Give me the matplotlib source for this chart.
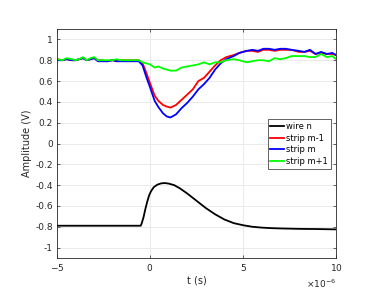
import numpy as np
import matplotlib
matplotlib.use("Agg")
import matplotlib.pyplot as plt
from matplotlib.ticker import ScalarFormatter

# values (time in microseconds)
t_wire = [-5, -0.5, -0.45, -0.35, -0.25, -0.15, -0.05, 0.05, 0.2, 0.4, 0.6, 0.8,
          1.0, 1.3, 1.6, 2.0, 2.5, 3.0, 3.5, 4.0, 4.5, 5.0, 5.5, 6, 6.5, 7, 8, 9, 10]
wire_n = [-0.79, -0.79, -0.77, -0.71, -0.63, -0.56, -0.50, -0.46, -0.42, -0.395,
          -0.383, -0.38, -0.385, -0.40, -0.43, -0.48, -0.55, -0.62, -0.68, -0.73,
          -0.765, -0.785, -0.80, -0.808, -0.813, -0.816, -0.82, -0.822, -0.825]

t_strip = [-5, -4.7, -4.5, -4.2, -4, -3.8, -3.6, -3.4, -3.2, -3.0, -2.8, -2.6, -2.3,
           -2.0, -1.8, -1.6, -1.3, -1.0, -0.6, -0.4, -0.2, 0, 0.25, 0.45, 0.7, 0.9,
           1.1, 1.4, 1.7, 2.0, 2.3, 2.6, 2.9, 3.2, 3.5, 3.8, 4.1, 4.5, 4.8, 5.2,
           5.5, 5.8, 6.1, 6.4, 6.7, 7.0, 7.3, 7.6, 8.0, 8.3, 8.6, 8.9, 9.2, 9.5,
           9.8, 10]
strip_m_minus = [0.81, 0.80, 0.81, 0.80, 0.80, 0.81, 0.82, 0.80, 0.81, 0.82, 0.80,
                 0.80, 0.79, 0.80, 0.79, 0.80, 0.80, 0.80, 0.80, 0.77, 0.68, 0.58,
                 0.46, 0.41, 0.37, 0.355, 0.345, 0.37, 0.42, 0.47, 0.52, 0.60, 0.63,
                 0.69, 0.75, 0.80, 0.83, 0.85, 0.87, 0.89, 0.89, 0.88, 0.90, 0.90,
                 0.89, 0.90, 0.90, 0.90, 0.88, 0.88, 0.89, 0.86, 0.87, 0.86, 0.86,
                 0.85]
strip_m = [0.80, 0.80, 0.81, 0.80, 0.80, 0.81, 0.82, 0.80, 0.81, 0.82, 0.79,
           0.79, 0.79, 0.80, 0.79, 0.79, 0.79, 0.79, 0.79, 0.75, 0.64, 0.54,
           0.41, 0.35, 0.29, 0.26, 0.25, 0.28, 0.34, 0.39, 0.45, 0.52, 0.57,
           0.63, 0.71, 0.77, 0.81, 0.84, 0.87, 0.89, 0.90, 0.89, 0.91, 0.91,
           0.90, 0.91, 0.91, 0.90, 0.89, 0.88, 0.90, 0.86, 0.88, 0.86, 0.87,
           0.85]
strip_m_plus = [0.81, 0.80, 0.82, 0.81, 0.80, 0.81, 0.83, 0.80, 0.82, 0.83, 0.80,
                0.80, 0.80, 0.80, 0.81, 0.80, 0.80, 0.80, 0.80, 0.78, 0.77, 0.76,
                0.73, 0.74, 0.72, 0.71, 0.70, 0.70, 0.73, 0.74, 0.75, 0.76, 0.78,
                0.76, 0.78, 0.78, 0.80, 0.81, 0.80, 0.78, 0.79, 0.80, 0.80, 0.79,
                0.82, 0.81, 0.82, 0.84, 0.84, 0.84, 0.83, 0.83, 0.86, 0.83, 0.84,
                0.81]

labels = ["wire n", "strip m-1", "strip m", "strip m+1"]
colors = ["black", "red", "blue", "#00ff00"]

plt.rcParams["font.family"] = "DejaVu Sans"
fig = plt.figure(figsize=(3.81, 2.98), dpi=100)
ax = fig.add_axes([57 / 381, 1 - 258 / 298, 279 / 381, 229 / 298])

us = 1e-6
ax.plot(np.array(t_wire) * us, wire_n, color=colors[0], lw=1.3, label=labels[0])
ax.plot(np.array(t_strip) * us, strip_m_minus, color=colors[1], lw=1.3, label=labels[1])
ax.plot(np.array(t_strip) * us, strip_m, color=colors[2], lw=1.3, label=labels[2])
ax.plot(np.array(t_strip) * us, strip_m_plus, color=colors[3], lw=1.3, label=labels[3])

ax.set_xlim(-5 * us, 10 * us)
ax.set_ylim(-1.1, 1.1)
ax.set_xticks(np.array([-5, 0, 5, 10]) * us)
ax.set_yticks(np.round(np.arange(-1, 1.01, 0.2), 1))
ax.set_yticklabels(["-1", "-0.8", "-0.6", "-0.4", "-0.2", "0",
                    "0.2", "0.4", "0.6", "0.8", "1"])

fmt = ScalarFormatter(useMathText=True)
fmt.set_powerlimits((-6, -6))
ax.xaxis.set_major_formatter(fmt)
ax.xaxis.get_offset_text().set_fontsize(6.5)
ax.xaxis.get_offset_text().set_color("#262626")

ax.grid(True, color="#e6e6e6", lw=0.6)
ax.set_axisbelow(True)
for s in ax.spines.values():
    s.set_color("#262626")
    s.set_linewidth(0.6)
ax.tick_params(direction="in", length=2.5, width=0.5, labelsize=6.5,
               colors="#262626", top=True, right=True, pad=3)

ax.set_xlabel("t (s)", fontsize=7, color="#262626", labelpad=2)
ax.set_ylabel("Amplitude (V)", fontsize=7, color="#262626", labelpad=2)

leg = ax.legend(loc="upper right", bbox_to_anchor=(0.982, 0.605), fontsize=6,
                frameon=True, fancybox=False, framealpha=1, handlelength=1.6,
                handletextpad=0.3, borderpad=0.35, labelspacing=0.3,
                borderaxespad=0)
leg.get_frame().set_edgecolor("#262626")
leg.get_frame().set_linewidth(0.5)

fig.savefig("out.png", dpi=100)
